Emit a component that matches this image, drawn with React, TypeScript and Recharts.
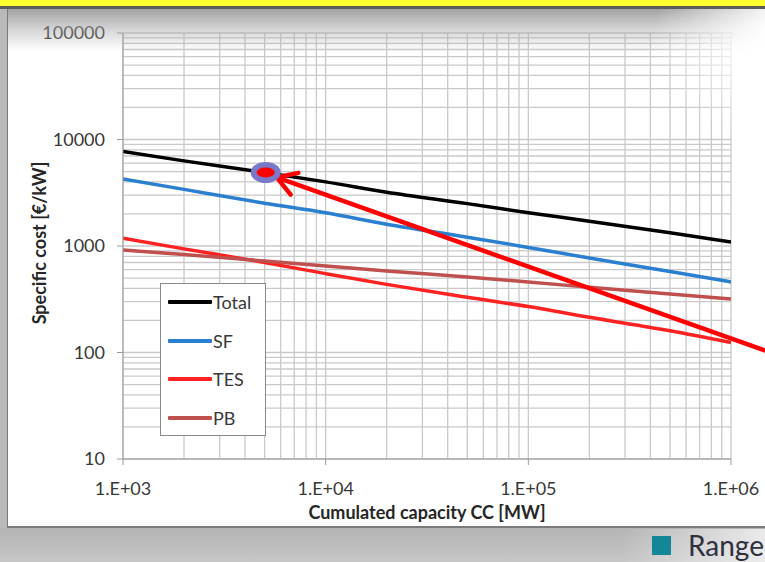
import React from "react";
import {
  LineChart,
  Line,
  XAxis,
  YAxis,
  CartesianGrid,
  ReferenceLine,
  ReferenceDot,
  Label,
} from "recharts";

// Kumulierte Kapazität [MW] (log-Achse)
const capacity = [1e3, 2e3, 5e3, 1e4, 2e4, 5e4, 1e5, 2e5, 5e5, 1e6];
// spezifische Kosten [€/kW]
const total = [7700, 6300, 4900, 4000, 3200, 2500, 2050, 1710, 1330, 1090];
const sf = [4270, 3400, 2520, 2050, 1600, 1210, 970, 770, 575, 460];
const tes = [1180, 940, 700, 550, 436, 330, 270, 214, 160, 124];
const pb = [917, 830, 723, 649, 582, 512, 460, 409, 355, 318];

const xTicks = [1e3, 1e4, 1e5, 1e6];
const xTickLabels = ["1.E+03", "1.E+04", "1.E+05", "1.E+06"];
const yTicks = [10, 100, 1000, 10000, 100000];

// Markierung + Pfeil (Annotation)
const markerPoint = { x: 5060, y: 4900 };
const arrowTip = { x: 5740, y: 4400 };
const arrowTail = { x: 1.455e6, y: 105 };

const SERIES = [
  { key: "total", name: "Total", color: "#000000", values: total },
  { key: "sf", name: "SF", color: "#2a7fd0", values: sf },
  { key: "tes", name: "TES", color: "#ff2222", values: tes },
  { key: "pb", name: "PB", color: "#c0504d", values: pb },
];

const data = capacity.map((cc, i) => {
  const row: Record<string, number> = { cc };
  SERIES.forEach((s) => (row[s.key] = s.values[i]));
  return row;
});

// log-Gitter: 1..9 je Dekade
const decadeGrid = (from: number, to: number) => {
  const out: number[] = [];
  for (let d = from; d < to; d *= 10) for (let m = 1; m < 10; m++) out.push(d * m);
  out.push(to);
  return out;
};
const X_DOMAIN: [number, number] = [1000, 1000000];
const Y_DOMAIN: [number, number] = [10, 100000];
const xGrid = decadeGrid(X_DOMAIN[0], X_DOMAIN[1]);
const yGrid = decadeGrid(Y_DOMAIN[0], Y_DOMAIN[1]);

// Plotfläche (für das Gitter)
const PLOT = { left: 123, top: 33, width: 608, height: 426 };
const lg = Math.log10;
const xPix = (v: number) =>
  PLOT.left + ((lg(v) - lg(X_DOMAIN[0])) / (lg(X_DOMAIN[1]) - lg(X_DOMAIN[0]))) * PLOT.width;
const yPix = (v: number) =>
  PLOT.top + PLOT.height - ((lg(v) - lg(Y_DOMAIN[0])) / (lg(Y_DOMAIN[1]) - lg(Y_DOMAIN[0]))) * PLOT.height;

const FONT = "Lato, 'Open Sans', sans-serif";
const GRID = "#c9c9c9";
const AXIS = "#9a9a9a";

function Arrow(props: any) {
  const { x1, y1, x2, y2 } = props;
  const ang = Math.atan2(y1 - y2, x1 - x2);
  const len = 22;
  const spread = 0.55;
  const a1 = { x: x2 + len * Math.cos(ang - spread), y: y2 + len * Math.sin(ang - spread) };
  const a2 = { x: x2 + len * Math.cos(ang + spread), y: y2 + len * Math.sin(ang + spread) };
  return (
    <g stroke="#ff0000" strokeWidth={4.5} strokeLinecap="round" fill="none">
      <line x1={x1} y1={y1} x2={x2} y2={y2} />
      <polyline points={`${a1.x},${a1.y} ${x2},${y2} ${a2.x},${a2.y}`} />
    </g>
  );
}

function Marker(props: any) {
  const { cx, cy } = props;
  return (
    <g>
      <ellipse cx={cx} cy={cy} rx={15} ry={10.5} fill="#7a78c8" />
      <ellipse cx={cx} cy={cy} rx={9} ry={5} fill="#ff0000" />
    </g>
  );
}

function LegendBox() {
  return (
    <div
      style={{
        position: "absolute",
        left: 160,
        top: 283,
        width: 106,
        height: 153,
        boxSizing: "border-box",
        border: "1.5px solid #8a8a8a",
        background: "#fff",
        fontFamily: FONT,
        fontSize: 18,
        color: "#383838",
      }}
    >
      {SERIES.map((s, i) => (
        <div
          key={s.key}
          style={{
            position: "absolute",
            left: 7,
            top: 7 + i * 38.5,
            display: "flex",
            alignItems: "center",
            height: 22,
          }}
        >
          <div style={{ width: 44, height: 4, background: s.color, borderRadius: 1 }} />
          <span style={{ marginLeft: 1 }}>{s.name}</span>
        </div>
      ))}
    </div>
  );
}

export default function App() {
  return (
    <div
      style={{
        position: "absolute",
        left: 0,
        top: 0,
        width: 765,
        height: 562,
        overflow: "hidden",
        background: "#bababa",
      }}
    >
      {/* weiße Fläche */}
      <div
        style={{
          position: "absolute",
          left: 7,
          top: 9,
          width: 770,
          height: 519,
          background: "#ffffff",
          borderLeft: "1.5px solid #7a7a7a",
          borderBottom: "2px solid #7a7a7a",
          boxSizing: "border-box",
        }}
      />
      {/* untere Leiste */}
      <div
        style={{
          position: "absolute",
          left: 0,
          top: 528,
          width: 765,
          height: 34,
          background: "linear-gradient(#b4b4b4, #c6c6c6)",
        }}
      />
      <div
        style={{
          position: "absolute",
          left: 620,
          top: 529,
          width: 145,
          height: 33,
          background: "linear-gradient(90deg, rgba(230,230,230,0), rgba(240,240,240,0.9))",
        }}
      />
      <div style={{ position: "absolute", left: 652, top: 536, width: 19, height: 19, background: "#138797" }} />
      <div
        style={{
          position: "absolute",
          left: 688,
          top: 528,
          fontFamily: FONT,
          fontSize: 28,
          color: "#2e3040",
          whiteSpace: "nowrap",
        }}
      >
        Range
      </div>

      <div style={{ position: "absolute", left: 0, top: 0 }}>
        <LineChart
          width={765}
          height={562}
          data={data}
          margin={{ top: 33, right: 34, bottom: 0, left: 0 }}
          style={{ fontFamily: FONT }}
        >
          <CartesianGrid
            stroke={GRID}
            strokeWidth={1.3}
            horizontalCoordinatesGenerator={() => yGrid.map(yPix)}
            verticalCoordinatesGenerator={() => xGrid.map(xPix)}
          />
          <XAxis
            dataKey="cc"
            type="number"
            scale="log"
            domain={X_DOMAIN}
            ticks={xTicks}
            tickFormatter={(v: number) => xTickLabels[xTicks.indexOf(v)] ?? ""}
            height={103}
            tickSize={6}
            tickMargin={17}
            stroke={AXIS}
            tick={{ fontSize: 18, fill: "#383838", fontFamily: FONT }}
            allowDataOverflow
          >
            <Label
              content={({ viewBox }: any) => (
                <text
                  x={viewBox.x + viewBox.width / 2}
                  y={viewBox.y + 60}
                  textAnchor="middle"
                  fontFamily={FONT}
                  fontSize={18}
                  fontWeight={700}
                  fill="#262626"
                >
                  Cumulated capacity CC [MW]
                </text>
              )}
            />
          </XAxis>
          <YAxis
            type="number"
            scale="log"
            domain={Y_DOMAIN}
            ticks={yTicks}
            width={123}
            tickSize={6}
            tickMargin={12}
            stroke={AXIS}
            tick={{ fontSize: 18, fill: "#383838", fontFamily: FONT }}
            allowDataOverflow
          >
            <Label
              content={({ viewBox }: any) => {
                const cx = 46;
                const cy = viewBox.y + viewBox.height / 2 - 3;
                return (
                  <text
                    x={cx}
                    y={cy}
                    transform={`rotate(-90 ${cx} ${cy})`}
                    textAnchor="middle"
                    fontFamily={FONT}
                    fontSize={18}
                    fontWeight={700}
                    fill="#262626"
                  >
                    Specific cost [€/kW]
                  </text>
                );
              }}
            />
          </YAxis>
          {SERIES.map((s) => (
            <Line
              key={s.key}
              dataKey={s.key}
              name={s.name}
              stroke={s.color}
              strokeWidth={3.5}
              dot={false}
              isAnimationActive={false}
              type="monotone"
            />
          ))}
          <ReferenceDot
            x={markerPoint.x}
            y={markerPoint.y}
            ifOverflow="visible"
            shape={(p: any) => <Marker {...p} />}
          />
          <ReferenceLine
            segment={[arrowTail, arrowTip]}
            ifOverflow="visible"
            shape={(p: any) => <Arrow {...p} />}
          />
        </LineChart>
      </div>

      {/* Schatten oben / Aufhellung rechts oben */}
      <div
        style={{
          position: "absolute",
          left: 8,
          top: 9,
          width: 757,
          height: 42,
          background:
            "linear-gradient(rgba(140,140,140,0.8), rgba(165,165,165,0.45) 50%, rgba(200,200,200,0))",
          pointerEvents: "none",
        }}
      />
      <div
        style={{
          position: "absolute",
          left: 650,
          top: 0,
          width: 180,
          height: 160,
          background:
            "radial-gradient(ellipse at 100% 25%, rgba(255,255,255,1) 25%, rgba(255,255,255,0) 70%)",
          pointerEvents: "none",
        }}
      />
      {/* gelbe Leiste oben */}
      <div style={{ position: "absolute", left: 0, top: 0, width: 765, height: 6, background: "#ffff2e" }} />
      <div style={{ position: "absolute", left: 0, top: 6, width: 765, height: 3, background: "#5c5c5c" }} />

      <LegendBox />
    </div>
  );
}
